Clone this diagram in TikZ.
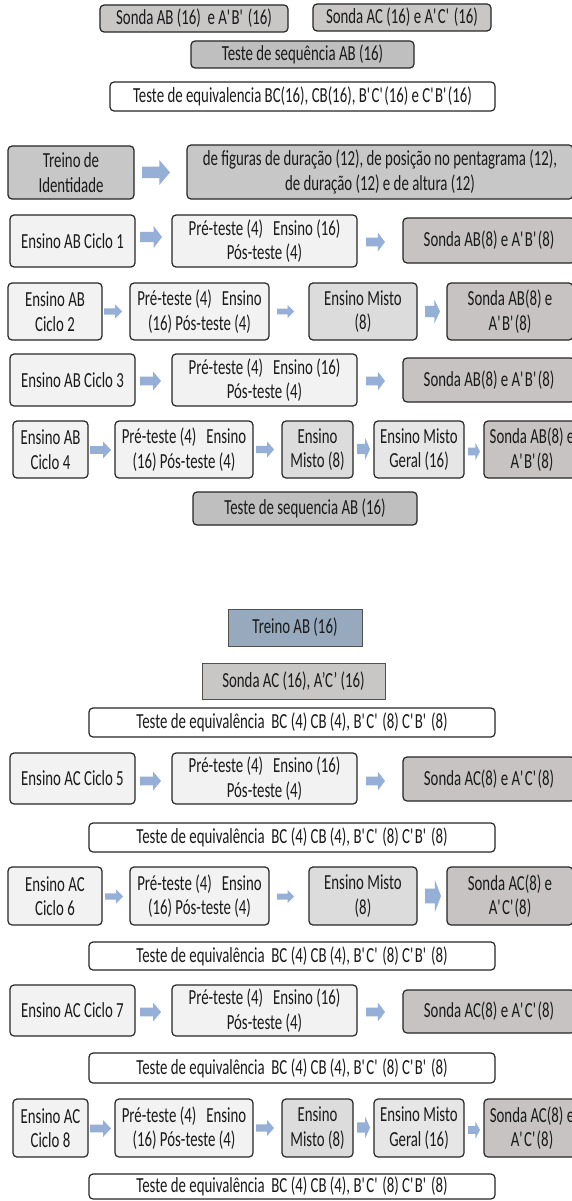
\documentclass[tikz,border=0pt]{standalone}
\usepackage{fontspec}
\setmainfont{Carlito}[FakeStretch=0.69]
\definecolor{bord}{HTML}{262626}
\definecolor{txt}{HTML}{1A1A1A}
\definecolor{cSondaTop}{HTML}{C9C6C6}
\definecolor{cSeq}{HTML}{BFBFBF}
\definecolor{cTreino}{HTML}{C7C7C7}
\definecolor{cLight}{HTML}{F2F2F2}
\definecolor{cMisto}{HTML}{DCDCDC}
\definecolor{cGeral}{HTML}{E6E6E6}
\definecolor{cSonda}{HTML}{C7C3C3}
\definecolor{cBlue}{HTML}{97AABD}
\definecolor{cArrow}{HTML}{95AFD7}
\newcommand\dfont{\fontsize{21.5}{24.5}\selectfont}
\newcommand\apo{\textquotesingle}
\tikzset{
  bx/.style={draw=bord, line width=1.2pt, rounded corners=4pt, inner sep=0pt, align=center, font=\dfont, text=txt},
  sq/.style={bx, rounded corners=0pt, draw=bord!80, line width=0.9pt},
  barrow/.pic={\fill[cArrow] (-0.5,-0.23) -- (0.12,-0.23) -- (0.12,-0.5) -- (0.5,0) -- (0.12,0.5) -- (0.12,0.23) -- (-0.5,0.23) -- cycle;}
}
\begin{document}
\begin{tikzpicture}[x=1pt,y=-1pt]
\useasboundingbox (0,0) rectangle (572,1201);
\fill[white] (0,0) rectangle (572,1201);
\clip (0,0) rectangle (572,1201);
% ---------- top
\node[bx, fill=cSondaTop, minimum width=188pt, minimum height=27pt] (sAB) at (194,18.5) {Sonda AB (16) \ e A\apo B\apo\ (16)};
\node[bx, fill=cSondaTop, minimum width=178pt, minimum height=27pt] (sAC) at (402,17.5) {Sonda AC (16) e A\apo C\apo\ (16)};
\node[bx, fill=cSeq, minimum width=223pt, minimum height=27pt] (tseq1) at (302.5,54.5) {Teste de sequência AB (16)};
\node[bx, fill=white, minimum width=385pt, minimum height=29pt] (teq1) at (302.5,96.5) {Teste de equivalencia BC(16), CB(16), B\apo C\apo(16) e C\apo B\apo(16)};
% ---------- treino identidade
\node[bx, fill=cTreino, minimum width=126pt, minimum height=53pt] (tid) at (71,172.5) {Treino de\\Identidade};
\pic[xscale=28,yscale=25] at (156,172.5) {barrow};
\node[bx, fill=cTreino, minimum width=386pt, minimum height=54pt] (fig) at (380,172) {de figuras de duração (12), de posição no pentagrama (12),\\de duração (12) e de altura (12)};
% ---------- ciclo 1
\node[bx, fill=cLight, minimum width=125pt, minimum height=52pt] (e1) at (72.5,241) {Ensino AB Ciclo 1};
\pic[xscale=22,yscale=22] at (151,237) {barrow};
\node[bx, fill=cLight, minimum width=185pt, minimum height=52pt] (p1) at (264.5,241) {Pré-teste (4) \ \ Ensino (16)\\Pós-teste (4)};
\pic[xscale=19,yscale=19] at (375.5,242) {barrow};
\node[bx, fill=cSonda, minimum width=172pt, minimum height=45pt] (s1) at (489,240.5) {Sonda AB(8) e A\apo B\apo(8)};
% ---------- ciclo 2
\node[bx, fill=cLight, minimum width=94pt, minimum height=57pt] (e2) at (55,311.5) {Ensino AB\\Ciclo 2};
\pic[xscale=18,yscale=14] at (113,311.5) {barrow};
\node[bx, fill=cLight, minimum width=139pt, minimum height=57pt] (p2) at (199.5,311.5) {Pré-teste (4) \ \ Ensino\\(16) Pós-teste (4)};
\pic[xscale=17,yscale=13] at (285.5,311.5) {barrow};
\node[bx, fill=cMisto, minimum width=108pt, minimum height=57pt] (m2) at (363,311.5) {Ensino Misto\\(8)};
\pic[xscale=15,yscale=24] at (432.5,311.5) {barrow};
\node[bx, fill=cSonda, minimum width=126pt, minimum height=57pt] (s2) at (510,311.5) {Sonda AB(8) e\\A\apo B\apo(8)};
% ---------- ciclo 3
\node[bx, fill=cLight, minimum width=125pt, minimum height=52pt] (e3) at (72.5,380) {Ensino AB Ciclo 3};
\pic[xscale=21,yscale=19] at (150.5,381) {barrow};
\node[bx, fill=cLight, minimum width=185pt, minimum height=52pt] (p3) at (264.5,380) {Pré-teste (4) \ \ Ensino (16)\\Pós-teste (4)};
\pic[xscale=19,yscale=19] at (375.5,381) {barrow};
\node[bx, fill=cSonda, minimum width=172pt, minimum height=44pt] (s3) at (489,380) {Sonda AB(8) e A\apo B\apo(8)};
% ---------- ciclo 4
\node[bx, fill=cLight, minimum width=75pt, minimum height=57pt] (e4) at (50.5,449.5) {Ensino AB\\Ciclo 4};
\pic[xscale=21,yscale=17] at (100.5,450) {barrow};
\node[bx, fill=cLight, minimum width=138pt, minimum height=57pt] (p4) at (184,449.5) {Pré-teste (4) \ \ Ensino\\(16) Pós-teste (4)};
\pic[xscale=18,yscale=16] at (265,449.5) {barrow};
\node[bx, fill=cMisto, minimum width=71pt, minimum height=57pt] (m4) at (317.5,449.5) {Ensino\\Misto (8)};
\pic[xscale=13,yscale=22] at (363.5,449) {barrow};
\node[bx, fill=cGeral, minimum width=90pt, minimum height=57pt] (g4) at (419,449.5) {Ensino Misto\\Geral (16)};
\pic[xscale=12,yscale=17] at (474,451.5) {barrow};
\node[bx, fill=cSonda, minimum width=96pt, minimum height=57pt] (s4) at (532,449.5) {Sonda AB(8) e\\A\apo B\apo(8)};
\node[bx, fill=cSeq, minimum width=224pt, minimum height=33pt] (tseq2) at (305,508.5) {Teste de sequencia AB (16)};
% ================= bottom section
\node[sq, fill=cBlue, minimum width=134pt, minimum height=37pt] (tAB) at (295,627.5) {Treino AB (16)};
\node[sq, fill=cSondaTop, minimum width=183pt, minimum height=36pt] (sACb) at (293.5,681) {Sonda AC (16), A’C’ (16)};
\node[bx, fill=white, minimum width=406pt, minimum height=29pt] (teq2) at (292,722.5) {Teste de equivalência \ BC (4) CB (4), B\apo C\apo\ (8) C\apo B\apo\ (8)};
% ---------- ciclo 5
\node[bx, fill=cLight, minimum width=125pt, minimum height=51pt] (e5) at (72.5,778.5) {Ensino AC Ciclo 5};
\pic[xscale=21,yscale=19] at (150.5,781) {barrow};
\node[bx, fill=cLight, minimum width=185pt, minimum height=51pt] (p5) at (264.5,778.5) {Pré-teste (4) \ \ Ensino (16)\\Pós-teste (4)};
\pic[xscale=19,yscale=19] at (375.5,781) {barrow};
\node[bx, fill=cSonda, minimum width=172pt, minimum height=44pt] (s5) at (489,779) {Sonda AC(8) e A\apo C\apo(8)};
\node[bx, fill=white, minimum width=406pt, minimum height=29pt] (teq3) at (292,837.5) {Teste de equivalência \ BC (4) CB (4), B\apo C\apo\ (8) C\apo B\apo\ (8)};
% ---------- ciclo 6
\node[bx, fill=cLight, minimum width=94pt, minimum height=58pt] (e6) at (55,896) {Ensino AC\\Ciclo 6};
\pic[xscale=18,yscale=14] at (114,896.5) {barrow};
\node[bx, fill=cLight, minimum width=139pt, minimum height=58pt] (p6) at (199.5,896) {Pré-teste (4) \ \ Ensino\\(16) Pós-teste (4)};
\pic[xscale=17,yscale=13] at (285.5,896.5) {barrow};
\node[bx, fill=cMisto, minimum width=108pt, minimum height=58pt] (m6) at (363,896) {Ensino Misto\\(8)};
\pic[xscale=16,yscale=32] at (433,896) {barrow};
\node[bx, fill=cSonda, minimum width=126pt, minimum height=58pt] (s6) at (510,896) {Sonda AC(8) e\\A\apo C\apo(8)};
\node[bx, fill=white, minimum width=406pt, minimum height=28pt] (teq4) at (292,956) {Teste de equivalência \ BC (4) CB (4), B\apo C\apo\ (8) C\apo B\apo\ (8)};
% ---------- ciclo 7
\node[bx, fill=cLight, minimum width=125pt, minimum height=51pt] (e7) at (72.5,1010.5) {Ensino AC Ciclo 7};
\pic[xscale=21,yscale=19] at (150.5,1012) {barrow};
\node[bx, fill=cLight, minimum width=185pt, minimum height=51pt] (p7) at (264.5,1010.5) {Pré-teste (4) \ \ Ensino (16)\\Pós-teste (4)};
\pic[xscale=19,yscale=19] at (375.5,1012) {barrow};
\node[bx, fill=cSonda, minimum width=172pt, minimum height=43pt] (s7) at (489,1011.5) {Sonda AC(8) e A\apo C\apo(8)};
\node[bx, fill=white, minimum width=406pt, minimum height=30pt] (teq5) at (292,1068) {Teste de equivalência \ BC (4) CB (4), B\apo C\apo\ (8) C\apo B\apo\ (8)};
% ---------- ciclo 8
\node[bx, fill=cLight, minimum width=75pt, minimum height=58pt] (e8) at (50.5,1128) {Ensino AC\\Ciclo 8};
\pic[xscale=21,yscale=17] at (100.5,1128.5) {barrow};
\node[bx, fill=cLight, minimum width=138pt, minimum height=58pt] (p8) at (184,1128) {Pré-teste (4) \ \ Ensino\\(16) Pós-teste (4)};
\pic[xscale=18,yscale=16] at (265,1128) {barrow};
\node[bx, fill=cMisto, minimum width=71pt, minimum height=58pt] (m8) at (317.5,1128) {Ensino\\Misto (8)};
\pic[xscale=13,yscale=22] at (363.5,1127.5) {barrow};
\node[bx, fill=cGeral, minimum width=90pt, minimum height=58pt] (g8) at (419,1128) {Ensino Misto\\Geral (16)};
\pic[xscale=12,yscale=17] at (474,1130) {barrow};
\node[bx, fill=cSonda, minimum width=96pt, minimum height=58pt] (s8) at (532,1128) {Sonda AC(8) e\\A\apo C\apo(8)};
\node[bx, fill=white, minimum width=406pt, minimum height=25pt] (teq6) at (292,1186.5) {Teste de equivalência \ BC (4) CB (4), B\apo C\apo\ (8) C\apo B\apo\ (8)};
\end{tikzpicture}
\end{document}
